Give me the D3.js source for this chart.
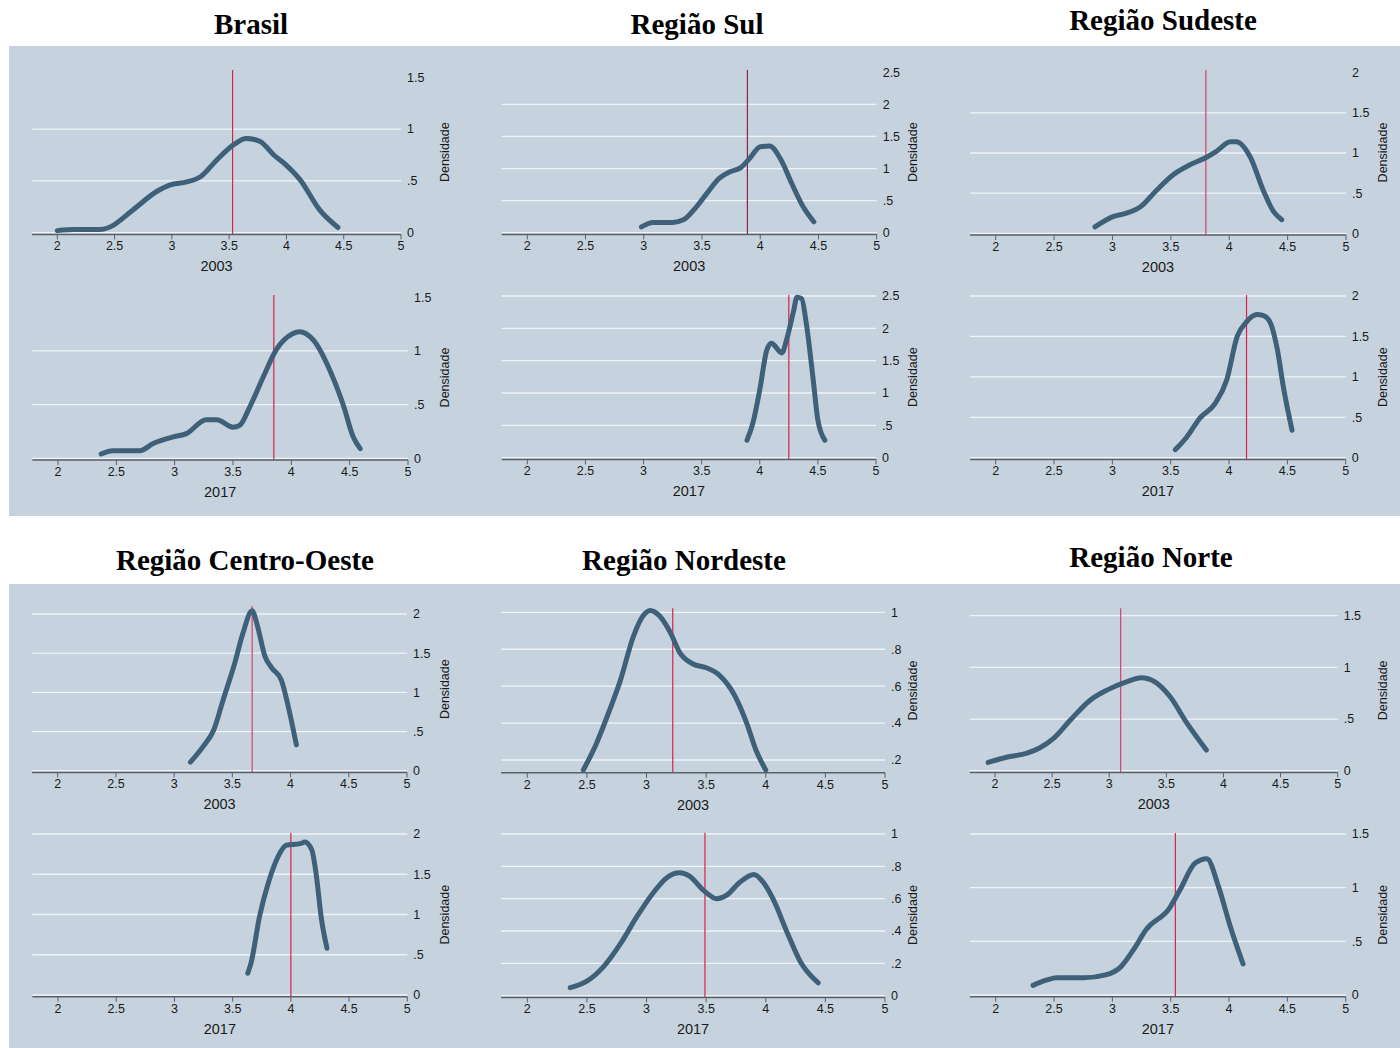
<!DOCTYPE html>
<html>
<head>
<meta charset="utf-8">
<script src="https://cdn.jsdelivr.net/npm/d3@7"></script>
<style>
  body { margin: 0; background: #fff; }
  svg { display: block; }
  .tick-label { font-family: "Liberation Sans", Arial, sans-serif; font-size: 12.5px; fill: #1a1a1a; }
  .axis-title { font-family: "Liberation Sans", Arial, sans-serif; fill: #1a1a1a; }
  .region-title { font-family: "Liberation Serif", "Times New Roman", serif; font-weight: bold; font-size: 29px; fill: #000; }
</style>
</head>
<body>
<div id="chart"></div>
<script>
// Kernel density of scores by region, 2003 vs 2017

const regions = ['Brasil', 'Região Sul', 'Região Sudeste', 'Região Centro-Oeste', 'Região Nordeste', 'Região Norte'];
const years = ['2003', '2017'];
const xTicks = [2, 2.5, 3, 3.5, 4, 4.5, 5];

// vertical reference line (mean) per region
const meanLines2003 = [3.53, 3.89, 3.80, 3.67, 3.22, 3.10];
const meanLines2017 = [3.85, 4.25, 4.15, 4.00, 3.49, 3.54];

// y tick labels per panel
const yTicks2003 = [
    [0, .5, 1, 1.5],
    [0, .5, 1, 1.5, 2, 2.5],
    [0, .5, 1, 1.5, 2],
    [0, .5, 1, 1.5, 2],
    [.2, .4, .6, .8, 1],
    [0, .5, 1, 1.5]
];
const yTicks2017 = [
    [0, .5, 1, 1.5],
    [0, .5, 1, 1.5, 2, 2.5],
    [0, .5, 1, 1.5, 2],
    [0, .5, 1, 1.5, 2],
    [0, .2, .4, .6, .8, 1],
    [0, .5, 1, 1.5]
];

// density curves [x, density]
const brasil2003 = [[2.0, 0.02], [2.15, 0.03], [2.37, 0.03], [2.45, 0.05], [2.66, 0.22], [2.87, 0.40], [2.98, 0.46],
    [3.13, 0.49], [3.25, 0.54], [3.39, 0.70], [3.54, 0.85], [3.65, 0.91], [3.77, 0.88], [3.89, 0.75], [4.00, 0.65],
    [4.12, 0.51], [4.29, 0.22], [4.45, 0.05]];
const brasil2017 = [[2.37, 0.04], [2.47, 0.07], [2.70, 0.07], [2.82, 0.14], [2.99, 0.20], [3.10, 0.23], [3.27, 0.36],
    [3.36, 0.36], [3.50, 0.29], [3.56, 0.31], [3.64, 0.47], [3.76, 0.76], [3.87, 1.01], [4.01, 1.16], [4.07, 1.18],
    [4.19, 1.10], [4.33, 0.82], [4.45, 0.48], [4.53, 0.20], [4.59, 0.09]];
const sul2003 = [[2.98, 0.09], [3.08, 0.16], [3.25, 0.16], [3.34, 0.20], [3.45, 0.40], [3.54, 0.61], [3.65, 0.85],
    [3.74, 0.95], [3.83, 1.01], [3.91, 1.16], [4.00, 1.34], [4.08, 1.35], [4.18, 1.13], [4.27, 0.77], [4.37, 0.40],
    [4.46, 0.17]];
const sul2017 = [[3.89, 0.27], [3.94, 0.53], [4.00, 1.05], [4.06, 1.66], [4.10, 1.77], [4.19, 1.62], [4.23, 1.82],
    [4.29, 2.26], [4.32, 2.48], [4.36, 2.46], [4.40, 2.08], [4.46, 1.20], [4.50, 0.58], [4.56, 0.27]];
const sudeste2003 = [[2.85, 0.08], [3.01, 0.21], [3.12, 0.25], [3.24, 0.33], [3.38, 0.54], [3.52, 0.73], [3.66, 0.85],
    [3.81, 0.95], [3.89, 1.02], [4.01, 1.14], [4.06, 1.14], [4.18, 0.95], [4.29, 0.54], [4.38, 0.27], [4.45, 0.17]];
const sudeste2017 = [[3.54, 0.10], [3.64, 0.26], [3.75, 0.49], [3.88, 0.67], [3.98, 0.96], [4.07, 1.50], [4.15, 1.68],
    [4.24, 1.77], [4.29, 1.76], [4.35, 1.68], [4.41, 1.37], [4.47, 0.84], [4.54, 0.34]];
const centroOeste2003 = [[3.14, 0.11], [3.25, 0.31], [3.34, 0.52], [3.42, 0.90], [3.52, 1.37], [3.59, 1.75],
    [3.67, 2.04], [3.71, 1.88], [3.78, 1.46], [3.84, 1.31], [3.92, 1.16], [3.98, 0.82], [4.05, 0.33]];
const centroOeste2017 = [[3.63, 0.27], [3.66, 0.41], [3.73, 0.97], [3.81, 1.41], [3.89, 1.72], [3.96, 1.86],
    [4.08, 1.88], [4.12, 1.90], [4.18, 1.80], [4.22, 1.47], [4.26, 0.97], [4.31, 0.58]];
const nordeste2003 = [[2.47, 0.146], [2.58, 0.29], [2.69, 0.47], [2.78, 0.63], [2.89, 0.87], [2.97, 0.98], [3.03, 1.01],
    [3.11, 0.98], [3.20, 0.89], [3.28, 0.78], [3.39, 0.72], [3.50, 0.70], [3.61, 0.66], [3.73, 0.56], [3.84, 0.40],
    [3.92, 0.25], [4.00, 0.146]];
const nordeste2017 = [[2.36, 0.05], [2.50, 0.09], [2.64, 0.18], [2.78, 0.32], [2.92, 0.49], [3.06, 0.64], [3.17, 0.73],
    [3.28, 0.76], [3.36, 0.74], [3.48, 0.65], [3.59, 0.60], [3.67, 0.62], [3.78, 0.70], [3.90, 0.75], [3.98, 0.70],
    [4.06, 0.60], [4.18, 0.39], [4.29, 0.21], [4.44, 0.08]];
const norte2003 = [[1.94, 0.08], [2.10, 0.13], [2.28, 0.17], [2.39, 0.22], [2.51, 0.31], [2.66, 0.49], [2.83, 0.68],
    [2.98, 0.78], [3.15, 0.86], [3.28, 0.90], [3.40, 0.86], [3.53, 0.72], [3.68, 0.46], [3.85, 0.20]];
const norte2017 = [[2.32, 0.09], [2.44, 0.14], [2.52, 0.16], [2.75, 0.16], [2.95, 0.19], [3.07, 0.26], [3.18, 0.42],
    [3.29, 0.61], [3.49, 0.81], [3.58, 0.98], [3.71, 1.23], [3.81, 1.27], [3.91, 1.01], [4.01, 0.64], [4.12, 0.29]];

const curves2003 = [brasil2003, sul2003, sudeste2003, centroOeste2003, nordeste2003, norte2003];
const curves2017 = [brasil2017, sul2017, sudeste2017, centroOeste2017, nordeste2017, norte2017];

// ---- layout (pixels) ----
const width = 1400, height = 1048;
const xMin = 1.78;
const titlePos = [[251, 34], [697, 34], [1163, 30], [245, 570], [684, 570], [1151, 567]];
const densX = [445, 913, 1383];
// px2, px5: pixel of x=2 and x=5; yA/yB: [value, px] pairs; floor: value at axis; redTop; topGrid
const layout2003 = [
    { px2: 57.3, px5: 401, yA: [0, 232.7], yB: [1.5, 77.3], floor: 0, redTop: 70, topGrid: false },
    { px2: 527.3, px5: 876.7, yA: [0, 232.7], yB: [2.5, 72.3], floor: 0, redTop: 70, topGrid: false },
    { px2: 995.7, px5: 1346, yA: [0, 233.3], yB: [2, 72.7], floor: 0, redTop: 70, topGrid: false },
    { px2: 57.7, px5: 407, yA: [0, 770.7], yB: [2, 614], floor: 0, redTop: 606, topGrid: true },
    { px2: 527.3, px5: 885, yA: [.2, 760], yB: [1, 612.3], floor: 0.14, redTop: 608.3, topGrid: true },
    { px2: 995, px5: 1337.7, yA: [0, 770.7], yB: [1.5, 615.7], floor: 0, redTop: 608.3, topGrid: true }
];
const layout2017 = [
    { px2: 58, px5: 408, yA: [0, 458.3], yB: [1.5, 297.3], floor: 0, redTop: 295, topGrid: false },
    { px2: 527.3, px5: 876, yA: [0, 457.7], yB: [2.5, 296], floor: 0, redTop: 295, topGrid: true },
    { px2: 995.7, px5: 1345.7, yA: [0, 457.7], yB: [2, 296], floor: 0, redTop: 295, topGrid: true },
    { px2: 58, px5: 407.3, yA: [0, 995], yB: [2, 834], floor: 0, redTop: 832.7, topGrid: true },
    { px2: 527.3, px5: 885, yA: [0, 995.7], yB: [1, 834], floor: 0, redTop: 832.7, topGrid: true },
    { px2: 995.7, px5: 1345.7, yA: [0, 995], yB: [1.5, 834], floor: 0, redTop: 833, topGrid: true }
];
const meanColors2003 = ['#d8214f', '#8a2245', '#d6406a', '#d6406a', '#d8214f', '#d6406a'];

const svg = d3.select('#chart').append('svg')
    .attr('width', width)
    .attr('height', height);

// background blocks
svg.append('rect').attr('x', 9).attr('y', 46).attr('width', width - 9).attr('height', 470).attr('fill', '#c6d3df');
svg.append('rect').attr('x', 9).attr('y', 584).attr('width', width - 9).attr('height', 464).attr('fill', '#c6d3df');

regions.forEach((name, i) => {
    svg.append('text')
        .attr('class', 'region-title')
        .attr('x', titlePos[i][0])
        .attr('y', titlePos[i][1])
        .attr('text-anchor', 'middle')
        .text(name);
});

const fmtY = d => d === 0 ? '0' : String(d).replace(/^0\./, '.');

function drawPanel(regionIdx, yearIdx) {
    const lay = yearIdx === 0 ? layout2003[regionIdx] : layout2017[regionIdx];
    const data = yearIdx === 0 ? curves2003[regionIdx] : curves2017[regionIdx];
    const ticks = yearIdx === 0 ? yTicks2003[regionIdx] : yTicks2017[regionIdx];
    const mean = yearIdx === 0 ? meanLines2003[regionIdx] : meanLines2017[regionIdx];
    const meanColor = yearIdx === 0 ? meanColors2003[regionIdx] : '#d8214f';
    const col = regionIdx % 3;

    const x = d3.scaleLinear().domain([2, 5]).range([lay.px2, lay.px5]);
    const y = d3.scaleLinear().domain([lay.yA[0], lay.yB[0]]).range([lay.yA[1], lay.yB[1]]);
    const axisY = y(lay.floor) + 1.7;
    const g = svg.append('g');

    // gridlines
    const gridVals = lay.topGrid ? ticks : ticks.slice(0, -1);
    g.selectAll('line.grid')
        .data(gridVals)
        .join('line')
        .attr('x1', x(xMin))
        .attr('x2', x(5))
        .attr('y1', d => y(d))
        .attr('y2', d => y(d))
        .attr('stroke', '#eef3f7')
        .attr('stroke-width', 1.3);

    // y tick labels (right side)
    g.selectAll('text.ylab')
        .data(ticks)
        .join('text')
        .attr('class', 'tick-label')
        .attr('x', x(5) + 6)
        .attr('y', d => y(d))
        .attr('dy', '0.35em')
        .text(fmtY);

    // mean line
    g.append('line')
        .attr('x1', x(mean)).attr('x2', x(mean))
        .attr('y1', axisY).attr('y2', lay.redTop)
        .attr('stroke', meanColor)
        .attr('stroke-width', 1.2);

    // density curve
    const line = d3.line()
        .x(d => x(d[0]))
        .y(d => y(d[1]))
        .curve(d3.curveMonotoneX);
    g.append('path')
        .datum(data)
        .attr('d', line)
        .attr('fill', 'none')
        .attr('stroke', '#3e6079')
        .attr('stroke-width', 5)
        .attr('stroke-linecap', 'round')
        .attr('stroke-linejoin', 'round');

    // x axis
    g.append('line')
        .attr('x1', x(xMin)).attr('x2', x(5))
        .attr('y1', axisY).attr('y2', axisY)
        .attr('stroke', '#5a5f66')
        .attr('stroke-width', 1.5);
    g.selectAll('line.xtick')
        .data(xTicks)
        .join('line')
        .attr('x1', d => x(d)).attr('x2', d => x(d))
        .attr('y1', axisY).attr('y2', axisY + 5)
        .attr('stroke', '#5a5f66')
        .attr('stroke-width', 1);
    g.selectAll('text.xlab')
        .data(xTicks)
        .join('text')
        .attr('class', 'tick-label')
        .attr('x', d => x(d))
        .attr('y', axisY + 16)
        .attr('text-anchor', 'middle')
        .text(d => d);

    // year title
    g.append('text')
        .attr('class', 'axis-title')
        .attr('x', (x(xMin) + x(5)) / 2)
        .attr('y', axisY + 37)
        .attr('text-anchor', 'middle')
        .style('font-size', '14.5px')
        .text(years[yearIdx]);

    // Densidade
    const cy = (lay.redTop + axisY) / 2;
    g.append('text')
        .attr('class', 'axis-title')
        .attr('transform', `translate(${densX[col]},${cy}) rotate(-90)`)
        .attr('text-anchor', 'middle')
        .attr('dy', '0.35em')
        .style('font-size', '12.5px')
        .text('Densidade');
}

regions.forEach((r, i) => {
    drawPanel(i, 0);
    drawPanel(i, 1);
});
</script>
</body>
</html>
